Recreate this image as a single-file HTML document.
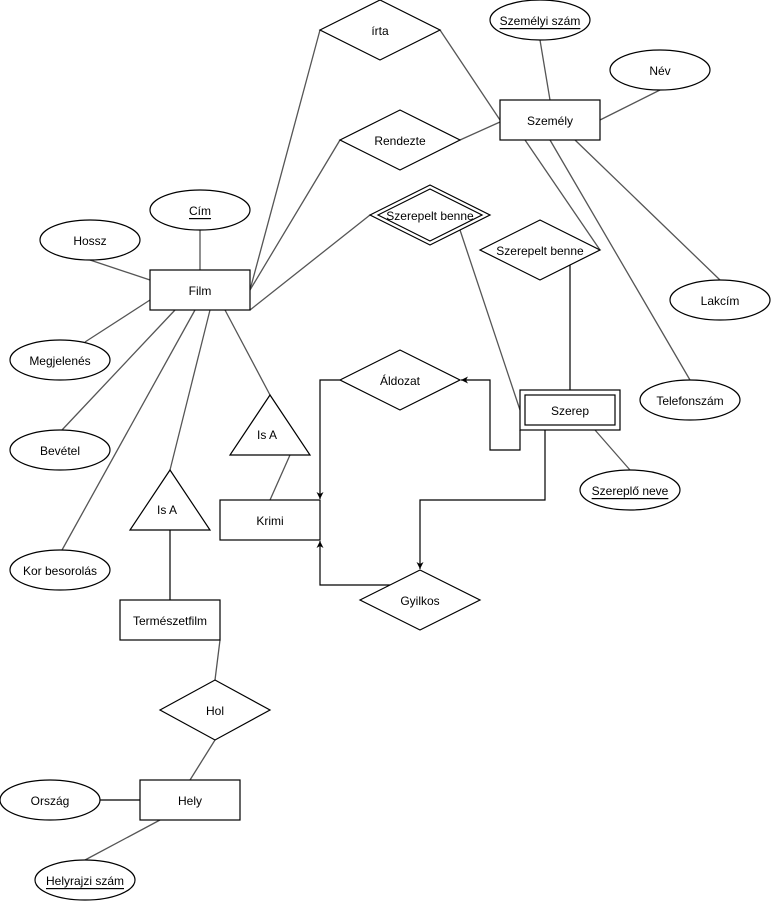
<!DOCTYPE html>
<html><head><meta charset="utf-8"><style>html,body{margin:0;padding:0;background:#fff}svg{display:block}text{font-family:"Liberation Sans",Arial,sans-serif;font-size:12px;text-anchor:middle;dominant-baseline:central;fill:#000}</style></head>
<body>
<svg width="771" height="901" viewBox="0 0 771 901" xmlns="http://www.w3.org/2000/svg">
<defs><marker id="a" markerWidth="8" markerHeight="8" refX="7" refY="4" orient="auto" markerUnits="userSpaceOnUse"><path d="M0,0.5 L7,4 L0,7.5 L2,4 Z" fill="#000"/></marker></defs>
<g stroke="#555" stroke-width="1.3" fill="none">
<line x1="250" y1="290" x2="320" y2="30"/>
<line x1="250" y1="290" x2="340" y2="140"/>
<line x1="250" y1="310" x2="370" y2="215"/>
<line x1="440" y1="30" x2="500" y2="120"/>
<line x1="460" y1="140" x2="500" y2="122"/>
<line x1="540" y1="40" x2="550" y2="100"/>
<line x1="600" y1="120" x2="660" y2="90"/>
<line x1="575" y1="140" x2="720" y2="280"/>
<line x1="550" y1="140" x2="690" y2="380"/>
<line x1="525" y1="140" x2="600" y2="250"/>
<line x1="460" y1="230" x2="520" y2="410"/>
<line x1="595" y1="430" x2="630" y2="470"/>
<line x1="200" y1="230" x2="200" y2="270"/>
<line x1="90" y1="260" x2="150" y2="280"/>
<line x1="150" y1="300" x2="85" y2="342"/>
<line x1="175" y1="310" x2="62" y2="430"/>
<line x1="195" y1="310" x2="62" y2="550"/>
<line x1="225" y1="310" x2="270" y2="395"/>
<line x1="290" y1="455" x2="270" y2="500"/>
<line x1="210" y1="310" x2="170" y2="470"/>
<line x1="220" y1="640" x2="215" y2="680"/>
<line x1="215" y1="740" x2="190" y2="780"/>
<line x1="160" y1="820" x2="85" y2="860"/>
</g>
<g stroke="#000" stroke-width="1.2" fill="none">
<line x1="570" y1="265" x2="570" y2="390"/>
<line x1="170" y1="530" x2="170" y2="600"/>
<line x1="100" y1="800" x2="140" y2="800"/>
<polyline points="520,430 520,450 490,450 490,380 461,380" marker-end="url(#a)"/>
<polyline points="340,380 320,380 320,499" marker-end="url(#a)"/>
<polyline points="545,430 545,500 420,500 420,569" marker-end="url(#a)"/>
<polyline points="390,585 320,585 320,541" marker-end="url(#a)"/>
</g>
<g stroke="#000" stroke-width="1.2" fill="#fff">
<polygon points="320,30 380,0 440,30 380,60"/>
<polygon points="340,140 400,110 460,140 400,170"/>
<polygon points="370,215 430,185 490,215 430,245"/>
<polygon points="378,215 430,189 482,215 430,241"/>
<polygon points="480,250 540,220 600,250 540,280"/>
<polygon points="340,380 400,350 460,380 400,410"/>
<polygon points="360,600 420,570 480,600 420,630"/>
<polygon points="160,710 215,680 270,710 215,740"/>
<polygon points="270,395 310,455 230,455"/>
<polygon points="170,470 210,530 130,530"/>
<rect x="500" y="100" width="100" height="40"/>
<rect x="150" y="270" width="100" height="40"/>
<rect x="520" y="390" width="100" height="40"/>
<rect x="525" y="395" width="90" height="30"/>
<rect x="220" y="500" width="100" height="40"/>
<rect x="120" y="600" width="100" height="40"/>
<rect x="140" y="780" width="100" height="40"/>
<ellipse cx="540" cy="20" rx="50" ry="20"/>
<ellipse cx="660" cy="70" rx="50" ry="20"/>
<ellipse cx="720" cy="300" rx="50" ry="20"/>
<ellipse cx="690" cy="400" rx="50" ry="20"/>
<ellipse cx="630" cy="490" rx="50" ry="20"/>
<ellipse cx="200" cy="210" rx="50" ry="20"/>
<ellipse cx="90" cy="240" rx="50" ry="20"/>
<ellipse cx="60" cy="360" rx="50" ry="20"/>
<ellipse cx="60" cy="450" rx="50" ry="20"/>
<ellipse cx="60" cy="570" rx="50" ry="20"/>
<ellipse cx="50" cy="800" rx="50" ry="20"/>
<ellipse cx="85" cy="880" rx="50" ry="20"/>
</g>
<text x="380" y="31">írta</text>
<text x="400" y="141">Rendezte</text>
<text x="430" y="216">Szerepelt benne</text>
<text x="540" y="251">Szerepelt benne</text>
<text x="400" y="381">Áldozat</text>
<text x="420" y="601">Gyilkos</text>
<text x="215" y="711">Hol</text>
<text x="267" y="435">Is A</text>
<text x="167" y="510">Is A</text>
<text x="550" y="121">Személy</text>
<text x="200" y="291">Film</text>
<text x="570" y="411">Szerep</text>
<text x="270" y="521">Krimi</text>
<text x="170" y="621">Természetfilm</text>
<text x="190" y="801">Hely</text>
<text x="540" y="21" text-decoration="underline">Személyi szám</text>
<text x="660" y="71">Név</text>
<text x="720" y="301">Lakcím</text>
<text x="690" y="401">Telefonszám</text>
<text x="630" y="491" text-decoration="underline">Szereplő neve</text>
<text x="200" y="211" text-decoration="underline">Cím</text>
<text x="90" y="241">Hossz</text>
<text x="60" y="361">Megjelenés</text>
<text x="60" y="451">Bevétel</text>
<text x="60" y="571">Kor besorolás</text>
<text x="50" y="801">Ország</text>
<text x="85" y="881" text-decoration="underline">Helyrajzi szám</text>
</svg>
</body></html>
